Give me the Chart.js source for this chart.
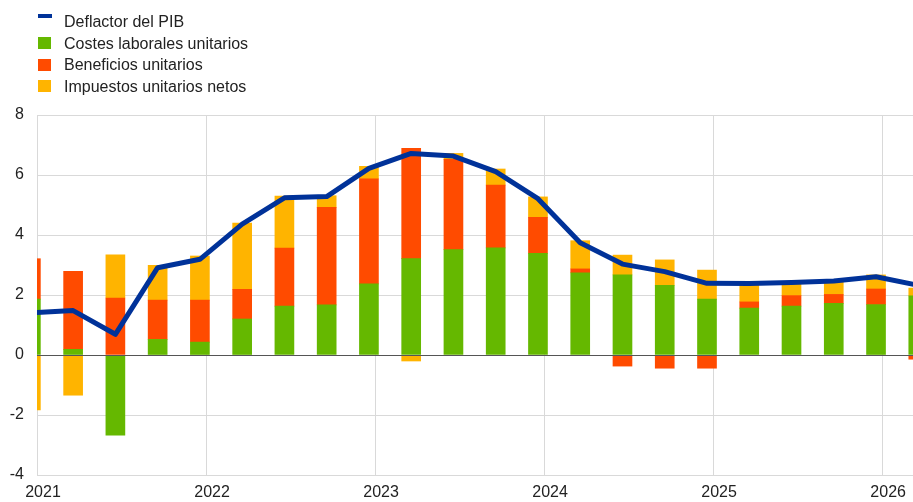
<!DOCTYPE html>
<html lang="es">
<head>
<meta charset="utf-8">
<script src="https://cdn.jsdelivr.net/npm/chart.js@4.4.1/dist/chart.umd.min.js"></script>
<style>
  body { margin: 0; background: #fff; }
  #wrap { position: relative; width: 913px; height: 502px; font-family: "Liberation Sans", Arial, sans-serif; }
  #grafico { position: absolute; left: 0; top: 0; }
  #leyenda { position: absolute; left: 0; top: 11px; }
  .item { position: relative; height: 21.5px; line-height: 22px; font-size: 16px; color: #222; padding-left: 64px; white-space: nowrap; }
  .marca { position: absolute; left: 38px; }
</style>
</head>
<body>
<div id="wrap">
  <canvas id="grafico" width="913" height="502"></canvas>
  <div id="leyenda"></div>
</div>
<script>
// Datos trimestrales
const trimestres = ['2021T1', '2021T2', '2021T3', '2021T4', '2022T1', '2022T2', '2022T3', '2022T4',
  '2023T1', '2023T2', '2023T3', '2023T4', '2024T1', '2024T2', '2024T3', '2024T4',
  '2025T1', '2025T2', '2025T3', '2025T4', '2026T1', '2026T2'];
const deflactor = [1.41, 1.48, 0.69, 2.91, 3.19, 4.36, 5.24, 5.28, 6.22, 6.72, 6.63, 6.11,
  5.21, 3.74, 3.03, 2.78, 2.39, 2.38, 2.42, 2.47, 2.61, 2.32];
const costesLaborales = [1.86, 0.19, -2.67, 0.52, 0.43, 1.2, 1.63, 1.67, 2.37, 3.21, 3.51, 3.57,
  3.39, 2.74, 2.67, 2.32, 1.86, 1.56, 1.63, 1.72, 1.68, 1.97];
const beneficios = [1.35, 2.6, 1.9, 1.31, 1.4, 0.99, 1.93, 3.25, 3.5, 3.68, 3.01, 2.09,
  1.2, 0.13, -0.37, -0.44, -0.44, 0.21, 0.35, 0.3, 0.52, -0.14];
const impuestos = [-1.83, -1.34, 1.44, 1.16, 1.47, 2.21, 1.74, 0.39, 0.42, -0.2, 0.2, 0.54,
  0.68, 0.94, 0.66, 0.85, 0.97, 0.62, 0.44, 0.46, 0.47, 0.26];
const etiquetasAnios = ['2021', '2022', '2023', '2024', '2025', '2026'];
const etiquetasY = [-4, -2, 0, 2, 4, 6, 8];

// Los años empiezan un poco después del centro de la barra
const desfaseAnio = 0.145;

const puntos = (valores) => valores.map((v, i) => ({ x: i, y: v }));

const colores = {
  azul: '#003299',
  verde: '#65B800',
  rojo: '#FF4B00',
  amarillo: '#FFB400'
};

// Línea del cero por encima de las barras
const lineaCero = {
  id: 'lineaCero',
  afterDatasetsDraw(chart) {
    const { ctx, chartArea, scales } = chart;
    const y = Math.round(scales.y.getPixelForValue(0)) + 0.5;
    ctx.save();
    ctx.strokeStyle = '#555';
    ctx.lineWidth = 1;
    ctx.beginPath();
    ctx.moveTo(chartArea.left, y);
    ctx.lineTo(chartArea.right, y);
    ctx.stroke();
    ctx.restore();
  }
};

const barra = (label, data, color, order) => ({
  type: 'bar',
  label,
  data: puntos(data),
  backgroundColor: color,
  stack: 'q',
  barThickness: 19,
  order,
  clip: 0
});

const chart = new Chart(document.getElementById('grafico'), {
  data: {
    datasets: [
      {
        type: 'line',
        label: 'Deflactor del PIB',
        data: puntos(deflactor),
        borderColor: colores.azul,
        backgroundColor: colores.azul,
        borderWidth: 5,
        borderJoinStyle: 'round',
        pointRadius: 0,
        tension: 0,
        order: 0,
        clip: 0
      },
      barra('Costes laborales unitarios', costesLaborales, colores.verde, 1),
      barra('Beneficios unitarios', beneficios, colores.rojo, 2),
      barra('Impuestos unitarios netos', impuestos, colores.amarillo, 3)
    ]
  },
  options: {
    responsive: false,
    animation: false,
    layout: { padding: { top: 115, left: 0, right: 0, bottom: 0 } },
    plugins: {
      legend: { display: false },
      tooltip: { enabled: false }
    },
    scales: {
      x: {
        type: 'linear',
        offset: false,
        min: desfaseAnio,
        max: desfaseAnio + 20.73,
        afterBuildTicks: (scale) => {
          scale.ticks = etiquetasAnios.map((a, i) => ({ value: desfaseAnio + i * 4 }));
        },
        afterFit: (scale) => { scale.height = 27; },
        ticks: {
          callback: (v, i) => etiquetasAnios[i],
          autoSkip: false,
          maxRotation: 0,
          padding: 8,
          labelOffset: 6,
          color: '#222',
          font: { family: 'Liberation Sans', size: 16 }
        },
        grid: { color: '#d9d9d9', drawTicks: false, offset: false },
        border: { display: false }
      },
      y: {
        stacked: true,
        min: -4,
        max: 8,
        afterBuildTicks: (scale) => {
          scale.ticks = etiquetasY.map((v) => ({ value: v }));
        },
        afterFit: (scale) => { scale.width = 37; },
        ticks: {
          padding: 13,
          color: '#222',
          font: { family: 'Liberation Sans', size: 16 }
        },
        grid: { color: '#d9d9d9', drawTicks: false },
        border: { display: false }
      }
    }
  },
  plugins: [lineaCero]
});

// Leyenda vertical arriba a la izquierda
const leyenda = document.getElementById('leyenda');
chart.data.datasets.forEach((ds) => {
  const item = document.createElement('div');
  item.className = 'item';
  const marca = document.createElement('span');
  marca.className = 'marca';
  if (ds.type === 'line') {
    Object.assign(marca.style, { top: '3px', width: '14px', height: '3.5px', background: ds.borderColor });
  } else {
    Object.assign(marca.style, { top: '4.5px', width: '13px', height: '12px', background: ds.backgroundColor });
  }
  item.appendChild(marca);
  item.appendChild(document.createTextNode(ds.label));
  leyenda.appendChild(item);
});
</script>
</body>
</html>
